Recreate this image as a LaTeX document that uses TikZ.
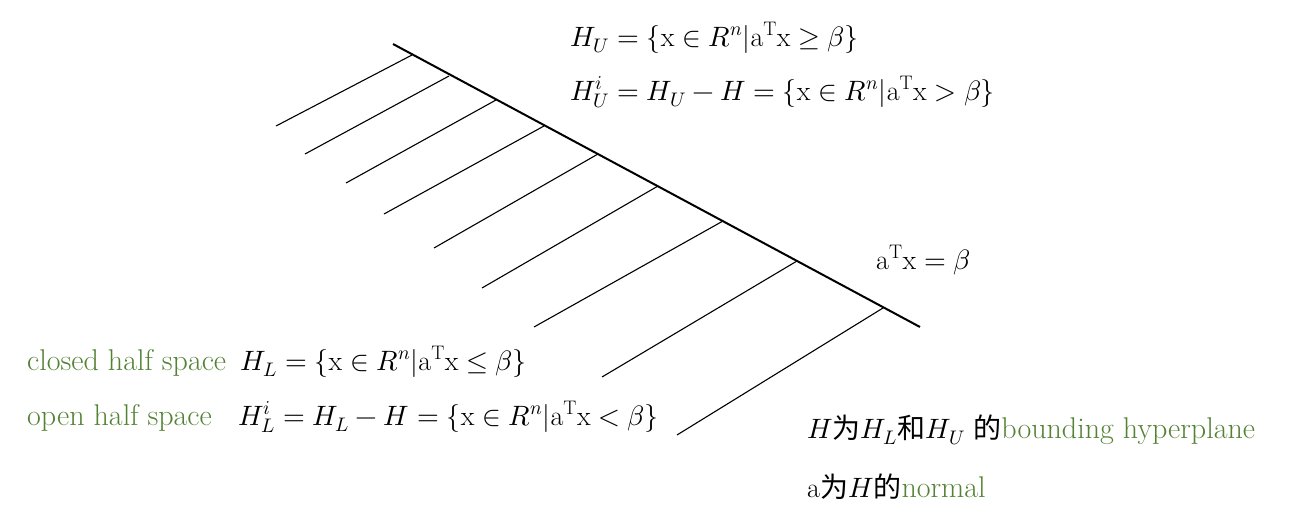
\documentclass[tikz,border=0pt]{standalone}
\usepackage{fontspec}
\usepackage{unicode-math}
\setmathfont{Latin Modern Math}
\newfontfamily\cjk{Noto Sans CJK SC}
\definecolor{gtext}{RGB}{84,130,53}
\newcommand{\gw}[1]{\textcolor{gtext}{\fontsize{30}{34}\selectfont #1}}
\tikzset{
  lbl/.style={anchor=base west, inner sep=0pt, font=\fontsize{28}{33}\selectfont},
  green lbl/.style={anchor=base west, inner sep=0pt, font=\fontsize{30}{34}\selectfont, text=gtext},
  plane/.style={line width=2pt, black},
  hatch/.style={line width=1.1pt, black},
}
\begin{document}
\begin{tikzpicture}[x=1pt,y=-1pt]
\useasboundingbox (0,0) rectangle (1296,514);
% bounding hyperplane
\coordinate (p0) at (393,44);
\coordinate (p1) at (920,327);
\draw[plane] (p0) -- (p1);
% hatch lines
\foreach \i/\ax/\ay/\bx/\by in {1/412/55/276/126, 2/449/76/305/154, 3/496/100/346/183, 4/544/126/384/214, 5/598/154/434/248, 6/658/186/482/288, 7/723/221/534/327, 8/797/261/602/377, 9/883/308/677/435}{
  \coordinate (h\i a) at (\ax,\ay);
  \coordinate (h\i b) at (\bx,\by);
  \draw[hatch] (h\i a) -- (h\i b);
}
% labels
\node[lbl] (hu) at (570,46) {$H_U=\{\mathrm{x}\in R^n|\mathrm{a}^{\mathrm{T}}\mathrm{x}\geq\beta\}$};
\node[lbl] (hui) at (570,100) {$H_U^i=H_U-H=\{\mathrm{x}\in R^n|\mathrm{a}^{\mathrm{T}}\mathrm{x}>\beta\}$};
\node[lbl] (eq) at (876,269) {$\mathrm{a}^{\mathrm{T}}\mathrm{x}=\beta$};
\node[green lbl] (closed) at (27,370) {closed half space};
\node[lbl] (hl) at (240,370) {$H_L=\{\mathrm{x}\in R^n|\mathrm{a}^{\mathrm{T}}\mathrm{x}\leq\beta\}$};
\node[green lbl] (open) at (27,425) {open half space};
\node[lbl] (hli) at (238,425) {$H_L^i=H_L-H=\{\mathrm{x}\in R^n|\mathrm{a}^{\mathrm{T}}\mathrm{x}<\beta\}$};
\node[lbl] (bh) at (807,438) {$H${\cjk 为}$H_L${\cjk 和}$H_U$\ {\cjk 的}\gw{bounding hyperplane}};
\node[lbl] (nm) at (807,497) {a{\cjk 为}$H${\cjk 的}\gw{normal}};
\end{tikzpicture}
\end{document}
